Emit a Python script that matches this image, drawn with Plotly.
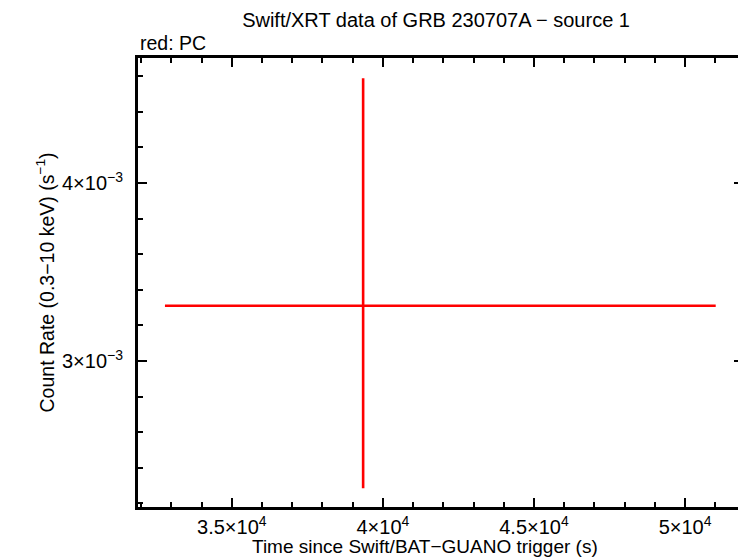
import plotly.graph_objects as go

# data
t = [39345.0]
t_lo = [32787.0]
t_hi = [51013.0]
rate = [3.3105e-3]
rate_lo = [2.2848e-3]
rate_hi = [4.5886e-3]

x_ticks = [35000, 40000, 45000, 50000]
x_ticklabels = ["3.5×10<sup>4</sup>", "4×10<sup>4</sup>", "4.5×10<sup>4</sup>", "5×10<sup>4</sup>"]
y_ticks = [3e-3, 4e-3]
y_ticklabels = ["3×10<sup>−3</sup>", "4×10<sup>−3</sup>"]

x_range = [31895, 51916]
y_range = [2.180e-3, 4.7024e-3]

x_minor = [v for v in range(32000, 52000, 1000) if v not in x_ticks]
y_minor = [round(2.2e-3 + 0.2e-3 * i, 6) for i in range(13)]
y_minor = [v for v in y_minor if all(abs(v - m) > 1e-9 for m in y_ticks)]

font = "Liberation Sans, Arial, Helvetica, sans-serif"

fig = go.Figure()
fig.add_trace(go.Scatter(
    x=t, y=rate, mode="markers",
    marker=dict(size=1, color="#ff0000"),
    error_x=dict(type="data", symmetric=False,
                 array=[t_hi[0] - t[0]], arrayminus=[t[0] - t_lo[0]],
                 color="#ff0000", thickness=2.6, width=0),
    error_y=dict(type="data", symmetric=False,
                 array=[rate_hi[0] - rate[0]], arrayminus=[rate[0] - rate_lo[0]],
                 color="#ff0000", thickness=2.6, width=0),
    showlegend=False, hoverinfo="skip",
))
# invisible trace bound to the mirror axes so their ticks are drawn
fig.add_trace(go.Scatter(x=t, y=rate, xaxis="x2", yaxis="y2", mode="markers",
                         marker=dict(size=1, opacity=0), showlegend=False,
                         hoverinfo="skip"))

def axis(**kw):
    d = dict(
        showline=True, linecolor="black", linewidth=3,
        ticks="inside", tickcolor="black", tickwidth=2, ticklen=9,
        showgrid=False, zeroline=False, automargin=False,
        tickfont=dict(family=font, size=20, color="black"),
    )
    d.update(kw)
    return d

minor_x = dict(tickmode="array", tickvals=x_minor, ticks="inside",
               ticklen=5, tickwidth=2, tickcolor="black")
minor_y = dict(tickmode="array", tickvals=y_minor, ticks="inside",
               ticklen=5, tickwidth=2, tickcolor="black")

# page body has an 8px margin, so the figure is 8px smaller than the window
fig.update_layout(
    width=738, height=550,
    margin=dict(l=130, r=3, t=50, b=51),
    paper_bgcolor="white", plot_bgcolor="white",
    font=dict(family=font, color="black"),
    title=dict(text="Swift/XRT data of GRB 230707A − source 1",
               x=0.58, xanchor="center", y=0.979, yanchor="middle",
               font=dict(family=font, size=20, color="black")),
    xaxis=axis(range=x_range, tickmode="array", tickvals=x_ticks,
               ticktext=x_ticklabels, minor=minor_x, ticklabelstandoff=0),
    yaxis=axis(range=y_range, tickmode="array", tickvals=y_ticks,
               ticktext=y_ticklabels, minor=minor_y, ticklabelstandoff=8,
               title=dict(text="Count Rate (0.3−10 keV) (s<sup>−1</sup>)",
                          font=dict(family=font, size=19.5), standoff=3)),
    xaxis2=axis(range=x_range, overlaying="x", side="top", anchor="y",
                tickmode="array", tickvals=x_ticks, showticklabels=False,
                minor=minor_x),
    yaxis2=axis(range=y_range, overlaying="y", side="right", anchor="x",
                tickmode="array", tickvals=y_ticks, showticklabels=False,
                minor=minor_y),
    annotations=[
        dict(text="red: PC", xref="paper", yref="paper",
             x=0, y=1, xanchor="left", yanchor="bottom", yshift=2,
             showarrow=False,
             font=dict(family=font, size=19.5, color="black")),
        dict(text="Time since Swift/BAT−GUANO trigger (s)", xref="paper",
             yref="paper", x=0.474, y=0, xanchor="center", yanchor="middle",
             yshift=-39, showarrow=False,
             font=dict(family=font, size=19, color="black")),
    ],
)

fig.write_html("out.html")
